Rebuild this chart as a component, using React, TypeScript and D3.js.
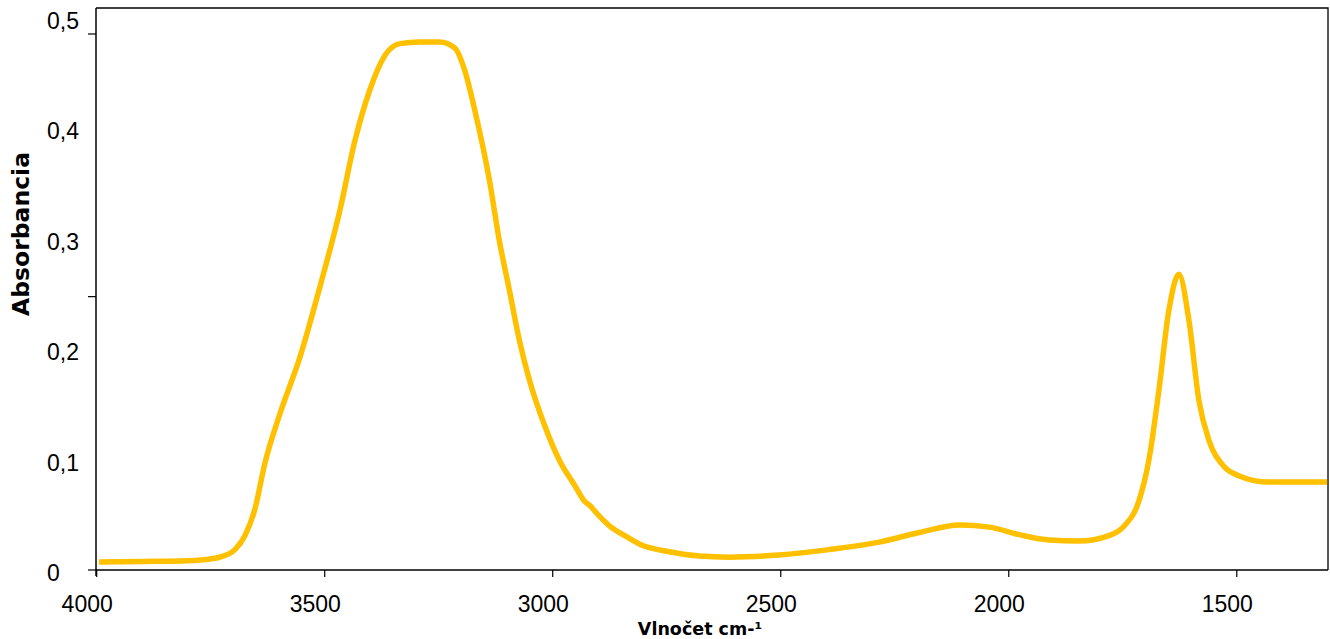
import React, { useEffect, useRef } from 'react';
import * as d3 from 'd3';

// vlnočet (cm-1) a absorbancia odčítané z grafu
const wavenumbers = [
  3995, 3900, 3817, 3760, 3730, 3697, 3675, 3653, 3631, 3598, 3554, 3510, 3467, 3434,
  3401, 3368, 3335, 3292, 3248, 3215, 3193, 3171, 3139, 3117, 3095, 3073, 3051, 3018,
  2985, 2952, 2930, 2918, 2908, 2875, 2842, 2830, 2809, 2744, 2678, 2613, 2504, 2394,
  2284, 2196, 2108, 2043, 1977, 1911, 1846, 1780, 1747, 1715, 1693, 1671, 1649, 1627,
  1605, 1583, 1561, 1529, 1496, 1430, 1302,
];
const absorbance = [
  0.0075, 0.0080, 0.0084, 0.0098, 0.012, 0.019, 0.032, 0.057, 0.100, 0.146, 0.199, 0.265,
  0.335, 0.400, 0.448, 0.480, 0.491, 0.4925, 0.4925, 0.487, 0.466, 0.429, 0.364, 0.307,
  0.261, 0.214, 0.177, 0.135, 0.102, 0.079, 0.064, 0.060, 0.055, 0.041, 0.032, 0.029,
  0.024, 0.017, 0.013, 0.012, 0.014, 0.019, 0.026, 0.035, 0.042, 0.040, 0.033, 0.028,
  0.027, 0.032, 0.041, 0.064, 0.102, 0.167, 0.242, 0.276, 0.233, 0.158, 0.121, 0.097,
  0.088, 0.082, 0.082,
];
const xTicks = [4000, 3500, 3000, 2500, 2000, 1500];
const yLabels = [0, 0.1, 0.2, 0.3, 0.4, 0.5];
const yTickMarks = [0, 0.255, 0.5];

export default function App() {
  const svgRef = useRef<SVGSVGElement>(null);

  const width = 1330;
  const height = 639;
  const margin = { top: 8, right: 2, bottom: 69, left: 96 };

  useEffect(() => {
    const svg = d3.select(svgRef.current);
    svg.selectAll('*').remove();
    svg.attr('width', width).attr('height', height);

    const x = d3
      .scaleLinear()
      .domain([4000, 1300])
      .range([margin.left + 0.7, width - margin.right]);
    const y = d3
      .scaleLinear()
      .domain([0, 0.5])
      .range([height - margin.bottom, 34]);
    // popisky osi Y sú v Exceli trochu posunuté voči značkám
    const yLab = d3.scaleLinear().domain([0, 0.5]).range([573, 21]);

    const x0 = margin.left;
    const y0 = height - margin.bottom;
    const font = '"Liberation Sans", Arial, sans-serif';

    // rámik
    svg
      .append('path')
      .attr('d', `M${x0},${margin.top}H${width - margin.right}V${y0}`)
      .attr('fill', 'none')
      .attr('stroke', '#000')
      .attr('stroke-width', 1.3);

    // krivka
    const data = wavenumbers.map((w, i) => [w, absorbance[i]] as [number, number]);
    const line = d3
      .line<[number, number]>()
      .x((d) => x(d[0]))
      .y((d) => y(d[1]))
      .curve(d3.curveMonotoneX);
    svg
      .append('path')
      .datum(data)
      .attr('d', line)
      .attr('fill', 'none')
      .attr('stroke', '#FFC000')
      .attr('stroke-width', 5.5)
      .attr('stroke-linejoin', 'round');

    // osi
    svg
      .append('line')
      .attr('x1', x0)
      .attr('x2', x0)
      .attr('y1', margin.top)
      .attr('y2', y0 + 6)
      .attr('stroke', '#000')
      .attr('stroke-width', 1.5);
    svg
      .append('line')
      .attr('x1', x0)
      .attr('x2', width - margin.right)
      .attr('y1', y0)
      .attr('y2', y0)
      .attr('stroke', '#000')
      .attr('stroke-width', 1.5);

    svg
      .append('g')
      .selectAll('line')
      .data(yTickMarks)
      .enter()
      .append('line')
      .attr('x1', x0 - 8)
      .attr('x2', x0)
      .attr('y1', (d) => y(d))
      .attr('y2', (d) => y(d))
      .attr('stroke', '#000')
      .attr('stroke-width', 1.2);

    svg
      .append('g')
      .selectAll('line')
      .data(xTicks)
      .enter()
      .append('line')
      .attr('x1', (d) => x(d))
      .attr('x2', (d) => x(d))
      .attr('y1', y0)
      .attr('y2', y0 + 7)
      .attr('stroke', '#000')
      .attr('stroke-width', 1.2);

    svg
      .append('g')
      .selectAll('text')
      .data(yLabels)
      .enter()
      .append('text')
      .text((d) => (d === 0 ? '0' : d3.format('.1f')(d).replace('.', ',')))
      .attr('x', 47)
      .attr('y', (d) => yLab(d))
      .attr('dominant-baseline', 'central')
      .attr('font-family', font)
      .attr('font-size', 23)
      .attr('fill', '#000');

    svg
      .append('g')
      .selectAll('text')
      .data(xTicks)
      .enter()
      .append('text')
      .text((d) => d)
      .attr('x', (d) => x(d) - 9.5)
      .attr('y', 612)
      .attr('text-anchor', 'middle')
      .attr('font-family', font)
      .attr('font-size', 23)
      .attr('fill', '#000');

    // názvy osí
    svg
      .append('text')
      .text('Absorbancia')
      .attr('transform', 'translate(29,234) rotate(-90)')
      .attr('text-anchor', 'middle')
      .attr('font-family', '"DejaVu Sans", Verdana, sans-serif')
      .attr('font-weight', 'bold')
      .attr('font-size', 23.5)
      .attr('fill', '#000');

    svg
      .append('text')
      .text('Vlnočet cm-¹')
      .attr('x', 700)
      .attr('y', 635)
      .attr('text-anchor', 'middle')
      .attr('font-family', '"DejaVu Sans", Verdana, sans-serif')
      .attr('font-weight', 'bold')
      .attr('font-size', 17.5)
      .attr('fill', '#000');
  }, []);

  return (
    <svg
      ref={svgRef}
      style={{ position: 'absolute', left: 0, top: 0, background: '#fff' }}
    ></svg>
  );
}
